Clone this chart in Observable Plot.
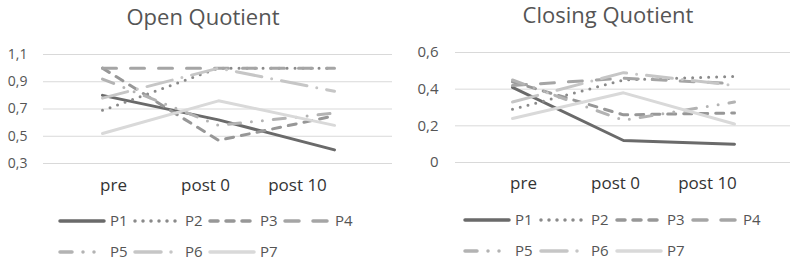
<!DOCTYPE html>
<html>
<head>
<meta charset="utf-8">
<script src="https://cdn.jsdelivr.net/npm/d3@7"></script>
<script src="https://cdn.jsdelivr.net/npm/@observablehq/plot@0.6"></script>
<style>
  html, body { margin: 0; padding: 0; background: #fff; }
  #wrap { position: relative; width: 793px; height: 264px; overflow: hidden; font-family: "Open Sans", sans-serif; }
  .title { position: absolute; font-size: 22px; color: #555; white-space: nowrap; transform: translateX(-50%); line-height: 1; }
  .panel { position: absolute; }
  .legend { position: absolute; left: 0; top: 0; }
</style>
</head>
<body>
<div id="wrap"></div>
<script>
// ---- data ----
const categories = ["pre", "post 0", "post 10"];
const series = ["P1", "P2", "P3", "P4", "P5", "P6", "P7"];
// Open Quotient, one row per series (pre, post 0, post 10)
const openQuotient = [
  [0.80, 0.62, 0.40],
  [0.69, 1.00, 1.00],
  [1.00, 0.47, 0.65],
  [1.00, 1.00, 1.00],
  [0.92, 0.58, 0.67],
  [0.78, 1.00, 0.83],
  [0.52, 0.76, 0.58]
];
// Closing Quotient
const closingQuotient = [
  [0.41, 0.12, 0.10],
  [0.29, 0.45, 0.47],
  [0.44, 0.26, 0.27],
  [0.42, 0.46, 0.43],
  [0.45, 0.23, 0.33],
  [0.33, 0.49, 0.42],
  [0.24, 0.38, 0.21]
];
const openTicks = [0.3, 0.5, 0.7, 0.9, 1.1];
const closingTicks = [0, 0.2, 0.4, 0.6];

// ---- styles ----
const colors = ["#6a6a6a", "#8a8a8a", "#979797", "#a5a5a5", "#b3b3b3", "#c6c6c6", "#d9d9d9"];
const dashes = [null, "0 8", "8 8", "14 14", "12 11 0 11 0 11", "26 10 0 10", null];

const fmt = d => d === 0 ? "0" : d.toFixed(1).replace(".", ",");

function chart(values, o) {
  const lines = series.map((s, k) => Plot.line(
    categories.map((c, i) => ({cat: c, v: values[k][i]})),
    {x: "cat", y: "v", stroke: colors[k], strokeWidth: 3,
     strokeDasharray: dashes[k] || undefined, strokeLinecap: "round", strokeLinejoin: "round"}
  ));
  return Plot.plot({
    width: o.width, height: o.height,
    marginTop: o.mt, marginBottom: o.mb, marginLeft: o.ml, marginRight: o.mr,
    style: {fontFamily: "Open Sans, sans-serif", background: "transparent", overflow: "visible"},
    x: {type: "point", domain: categories, padding: 0.5, axis: null},
    y: {domain: o.domain},
    marks: [
      Plot.gridY(o.ticks, {stroke: "#d9d9d9", strokeOpacity: 1, strokeWidth: 1}),
      Plot.axisY({ticks: o.ticks, tickSize: 0, tickPadding: o.yPad, tickFormat: fmt, fontSize: o.yFont, fill: "#555", label: null}),
      ...lines
    ]
  });
}

// category axis (label row), laid out as in the reference
function categoryAxis(o) {
  return Plot.plot({
    width: o.width, height: o.height,
    marginTop: o.mt, marginBottom: o.mb, marginLeft: o.axl, marginRight: o.axr,
    style: {fontFamily: "Open Sans, sans-serif", background: "transparent", overflow: "visible"},
    x: {type: "point", domain: categories, padding: 0.5},
    y: {domain: o.domain, axis: null},
    marks: [
      Plot.axisX({tickSize: 0, tickPadding: o.xPad, fontSize: 17, fill: "#333", label: null})
    ]
  });
}

const wrap = document.getElementById("wrap");

function addTitle(text, cx, top) {
  const t = document.createElement("div");
  t.className = "title";
  t.textContent = text;
  t.style.left = cx + "px";
  t.style.top = top + "px";
  wrap.appendChild(t);
}

function addPanel(node, left, top) {
  node.classList.add("panel");
  node.style.left = left + "px";
  node.style.top = top + "px";
  wrap.appendChild(node);
}

addTitle("Open Quotient", 203, 5);
addTitle("Closing Quotient", 608, 3);

const leftOpts = {width: 400, height: 170, mt: 24, mb: 37, ml: 43, mr: 8, axl: 67, axr: 57,
  domain: [0.3, 1.1], ticks: openTicks, yPad: 16, yFont: 14, xPad: 15};
const rightOpts = {width: 393, height: 170, mt: 22, mb: 38, ml: 55, mr: 3, axl: 76, axr: 40,
  domain: [0, 0.6], ticks: closingTicks, yPad: 17, yFont: 15, xPad: 14};

addPanel(chart(openQuotient, leftOpts), 0, 30);
addPanel(categoryAxis(leftOpts), 0, 30);
addPanel(chart(closingQuotient, rightOpts), 400, 30);
addPanel(categoryAxis(rightOpts), 400, 30);

// ---- legends ----
const ns = "http://www.w3.org/2000/svg";
const leg = document.createElementNS(ns, "svg");
leg.setAttribute("width", 793);
leg.setAttribute("height", 264);
leg.setAttribute("class", "legend");
wrap.appendChild(leg);

function legend(x0, pitch, rowY) {
  series.forEach((s, k) => {
    const row = k < 4 ? 0 : 1;
    const col = k < 4 ? k : k - 4;
    const x = x0 + col * pitch;
    const y = rowY[row];
    const l = document.createElementNS(ns, "line");
    l.setAttribute("x1", x + 2); l.setAttribute("x2", x + 46);
    l.setAttribute("y1", y); l.setAttribute("y2", y);
    l.setAttribute("stroke", colors[k]);
    l.setAttribute("stroke-width", 3.5);
    l.setAttribute("stroke-linecap", "round");
    if (dashes[k]) l.setAttribute("stroke-dasharray", dashes[k]);
    leg.appendChild(l);
    const t = document.createElementNS(ns, "text");
    t.setAttribute("x", x + 52);
    t.setAttribute("y", y + 5);
    t.setAttribute("font-size", 15);
    t.setAttribute("font-family", "Open Sans, sans-serif");
    t.setAttribute("fill", "#555");
    t.textContent = s;
    leg.appendChild(t);
  });
}
legend(58, 75, [221, 252]);
legend(463, 76, [220, 251]);
</script>
</body>
</html>
